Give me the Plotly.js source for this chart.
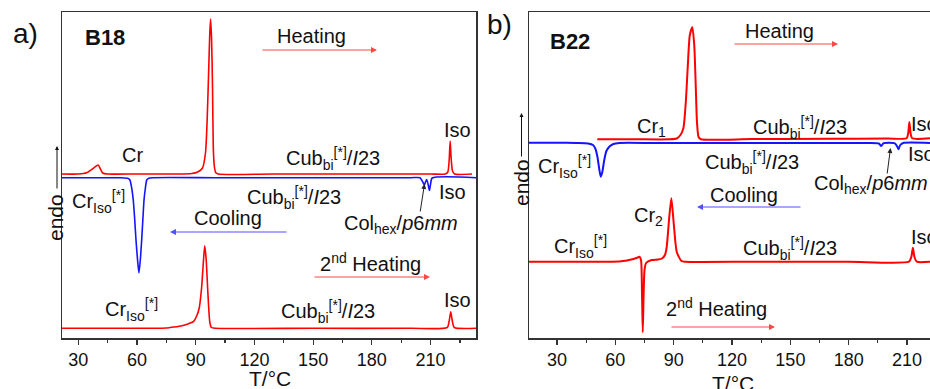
<!DOCTYPE html>
<html>
<head>
<meta charset="utf-8">
<script src="https://cdn.plot.ly/plotly-3.0.1.min.js"></script>
<style>html,body{margin:0;padding:0;background:#fff;}#chart{width:930px;height:389px;}</style>
</head>
<body>
<div id="chart"></div>
<script>
// ---------- DATA (heat flow in arbitrary units) ----------
// Panel a) B18
const aHeatT = [21.7, 30, 34.3, 37.7, 40.2, 41.4, 42.5, 45, 60, 80, 88, 91, 93.5, 95, 95.8, 96.6, 97.2, 97.6, 98.1, 98.6, 99, 99.5, 100.2, 101.5, 130, 160, 190, 210, 217.5, 218.8, 219.5, 220, 220.5, 221.2, 222.3, 231.2];
const aHeatY = [164, 164, 165.3, 169.7, 173, 168.7, 165, 164, 164, 164, 164.5, 166, 170, 185, 215, 265, 305, 319, 300, 250, 190, 172, 165.5, 164, 164, 164, 164, 164, 164, 166, 178, 197, 180, 167, 164, 164];

const aCoolT = [21.7, 40, 52, 55.5, 56.4, 57.3, 58.1, 58.8, 59.5, 60.3, 61, 61.7, 62.4, 63, 63.6, 64.3, 65, 66, 68, 100, 150, 200, 204.6, 206, 206.8, 207.4, 208, 208.7, 209.4, 210, 210.8, 233.2];
const aCoolY = [160.3, 160.3, 160.2, 159.5, 158, 150, 138, 120, 98, 78, 65, 78, 98, 118, 138, 150, 158, 159.8, 160.3, 160.3, 160.3, 160.3, 160.3, 156, 153, 156, 158.5, 154, 147.5, 154, 160, 160.3];

const aHeat2T = [21.7, 60, 75, 79, 83, 86, 88.8, 90.5, 91.8, 93, 94, 94.6, 95.3, 95.9, 96.5, 97.2, 98, 100, 150, 200, 218.5, 219.5, 220.3, 221.1, 222.1, 233.2];
const aHeat2Y = [9.7, 9.7, 10, 11, 12.3, 14, 16.3, 22, 30, 50, 78, 92.3, 80, 58, 35, 16, 10.5, 9.7, 9.7, 9.7, 10.5, 17, 26.3, 17, 10.5, 9.7];

// Panel b) B22
const bHeatT = [50.7, 70, 88, 91.5, 93.5, 95, 96.2, 97.2, 98.3, 99.6, 100.6, 101.3, 102, 102.8, 104, 130, 170, 200, 209.8, 210.6, 211.2, 211.8, 212.6, 221.8];
const bHeatY = [198.7, 198.7, 198.7, 199.5, 203, 210, 235, 270, 303, 310.7, 292, 255, 215, 201, 198.7, 198.9, 199.2, 199.5, 199.7, 205, 216, 205, 199.7, 199.7];

const bCoolT = [15.6, 30, 40, 46, 48.5, 49.8, 50.8, 51.8, 52.5, 53.3, 54.3, 55.4, 57, 59, 62, 80, 120, 160, 190, 195.5, 196.7, 198, 203.5, 204.8, 205.6, 206.5, 208, 221.8];
const bCoolY = [195.3, 195.3, 195, 194.5, 193, 189, 181, 168, 161.3, 166, 178, 187, 191.5, 194, 195, 195, 195, 195, 195, 194.5, 192, 194.8, 194.8, 192, 188.7, 193, 195, 195];

const bHeat2T = [15.6, 40, 55, 62, 66, 69.3, 71.5, 72.4, 73.2, 73.7, 74.1, 74.5, 75.0, 75.8, 78.7, 82, 84, 85.5, 86.4, 87.6, 88.8, 90, 91.6, 94, 96, 130, 180, 211, 212.2, 213, 213.8, 215, 221.8];
const bHeat2Y = [76.3, 76.3, 76.3, 76.5, 77.5, 79, 80.5, 81.3, 78, 45, 5.7, 40, 68, 75, 78, 78.5, 79.5, 83, 91, 118, 139.7, 115, 86, 77, 76.3, 76.3, 76.3, 76.3, 81, 90.3, 81, 76.3, 76.3];

const xTickVals = [30, 60, 90, 120, 150, 180, 210];
const xTickText = ['30', '60', '90', '120', '150', '180', '210'];
const xTitle = 'T/°C';
const yTitle = 'endo';

// ---------- STYLE / LAYOUT ----------
const W = 930, H = 389;
const RED = 'rgb(255,0,0)', BLUE = 'rgb(20,20,255)';
const FONT = 'Arial, "Liberation Sans", sans-serif';
const TXT = '#111';

function line(x, y, color, width, xa, ya) {
  return {x: x, y: y, type: 'scatter', mode: 'lines', xaxis: xa, yaxis: ya,
          line: {color: color, width: width, shape: 'spline', smoothing: 0.6}, hoverinfo: 'skip'};
}

const traces = [
  line(aHeatT, aHeatY, RED, 1.6, 'x', 'y'),
  line(aCoolT, aCoolY, BLUE, 1.6, 'x', 'y'),
  line(aHeat2T, aHeat2Y, RED, 1.6, 'x', 'y'),
  line(bHeatT, bHeatY, RED, 2, 'x2', 'y2'),
  line(bCoolT, bCoolY, BLUE, 2, 'x2', 'y2'),
  line(bHeat2T, bHeat2Y, RED, 2, 'x2', 'y2')
];

function P(px, py) { return {x: px / W, y: 1 - py / H}; }
function T(text, px, py, o) {
  const p = P(px, py);
  return Object.assign({xref: 'paper', yref: 'paper', x: p.x, y: p.y, text: text, showarrow: false,
    xanchor: 'center', yanchor: 'middle', borderpad: 0, font: {family: FONT, size: 20, color: TXT}}, o || {});
}
function ARR(x0, y0, x1, y1, color, w, size) {
  const p = P(x1, y1);
  return {xref: 'paper', yref: 'paper', x: p.x, y: p.y, ax: x0 - x1, ay: y0 - y1,
    axref: 'pixel', ayref: 'pixel', text: '', showarrow: true, arrowhead: 2,
    arrowsize: size || 1, arrowwidth: w, arrowcolor: color};
}

const cub = 'Cub<sub>bi</sub><sup>[*]</sup>/<i>I</i>23';
const criso = 'Cr<sub>Iso</sub><sup>[*]</sup>';
const col = 'Col<sub>hex</sub>/<i>p</i>6<i>mm</i>';

const annotations = [
  // panel a
  T('a)', 25, 33, {font: {family: FONT, size: 28, color: TXT}}),
  T('<b>B18</b>', 105, 38, {font: {family: FONT, size: 22, color: TXT}}),
  T('Heating', 311, 36),
  ARR(261, 50, 377, 50, 'rgb(255,70,70)', 1.2, 1),
  T('Cr', 132, 155),
  T(cub, 333, 158),
  T('Iso', 457, 130),
  T(criso, 98, 201),
  T(cub, 294, 197),
  T('Iso', 452, 192),
  T(col, 401, 224),
  ARR(420, 213, 424.5, 184, '#222', 1, 1),
  T('Cooling', 228, 218),
  ARR(288, 232, 170, 232, 'rgb(80,80,255)', 1.2, 1),
  T('2<sup>nd</sup> Heating', 370, 262),
  ARR(313, 277, 430, 277, 'rgb(255,70,70)', 1.2, 1),
  T(criso, 131, 309),
  T(cub, 328, 311),
  T('Iso', 457, 300),
  T(xTitle, 270, 378, {font: {family: FONT, size: 21, color: TXT}}),
  T(yTitle, 55, 218, {textangle: -90, font: {family: FONT, size: 21, color: TXT}}),
  ARR(57, 190, 57, 146, '#111', 1, 0.8),
  // panel b
  T('b)', 500, 25, {font: {family: FONT, size: 28, color: TXT}}),
  T('<b>B22</b>', 570, 41, {font: {family: FONT, size: 22, color: TXT}}),
  T('Heating', 779, 31),
  ARR(733, 44, 838, 44, 'rgb(255,70,70)', 1.2, 1),
  T('Cr<sub>1</sub>', 651, 127),
  T(cub, 800, 127),
  T('Iso', 910, 124, {xanchor: 'left'}),
  T(criso, 564, 166),
  T(cub, 752, 162),
  T('Iso', 907, 154, {xanchor: 'left'}),
  T(col, 813, 185, {xanchor: 'left'}),
  ARR(887, 175, 890.5, 148, '#222', 1, 1),
  T('Cooling', 744, 195),
  ARR(802, 207, 697, 207, 'rgb(80,80,255)', 1.2, 1),
  T('Cr<sub>2</sub>', 648, 217),
  T(criso, 580, 246),
  T(cub, 790, 248),
  T('Iso', 910, 237, {xanchor: 'left'}),
  T('2<sup>nd</sup> Heating', 716, 307),
  ARR(670, 327, 775, 327, 'rgb(255,70,70)', 1.2, 1),
  T(xTitle, 733, 383, {font: {family: FONT, size: 21, color: TXT}}),
  T(yTitle, 521, 183, {textangle: -90, font: {family: FONT, size: 21, color: TXT}}),
  ARR(521.5, 158, 521.5, 113, '#111', 1, 0.8)
];

function xAxis(range, domain, anchor) {
  return {domain: domain, range: range, anchor: anchor, showgrid: false, zeroline: false,
    showline: true, linecolor: '#333', linewidth: 1.5, mirror: true,
    tickmode: 'array', tickvals: xTickVals, ticktext: xTickText,
    ticks: 'outside', ticklen: 5, tickwidth: 1.2, tickcolor: '#333',
    tickfont: {family: FONT, size: 18, color: TXT},
    minor: {tickmode: 'linear', tick0: 15, dtick: 30, ticks: 'outside', ticklen: 3, tickwidth: 1.2, tickcolor: '#333'}};
}
function yAxis(domain, anchor, mirror) {
  return {domain: domain, range: [0, 326], anchor: anchor, showgrid: false, zeroline: false,
    showline: true, linecolor: '#333', linewidth: 1.5, mirror: mirror,
    showticklabels: false, ticks: ''};
}
const yDom = [1 - 338 / H, 1 - 12 / H];

const layout = {
  width: W, height: H, margin: {l: 0, r: 0, t: 0, b: 0},
  paper_bgcolor: '#fff', plot_bgcolor: 'rgba(0,0,0,0)', showlegend: false,
  font: {family: FONT, color: TXT},
  xaxis: xAxis([21.7, 233.2], [62 / W, 476 / W], 'y'),
  yaxis: yAxis(yDom, 'x', true),
  xaxis2: xAxis([15.6, 221.8], [529 / W, 1], 'y2'),
  yaxis2: yAxis(yDom, 'x2', false),
  annotations: annotations
};

Plotly.newPlot('chart', traces, layout, {staticPlot: true, displayModeBar: false});
</script>
</body>
</html>
